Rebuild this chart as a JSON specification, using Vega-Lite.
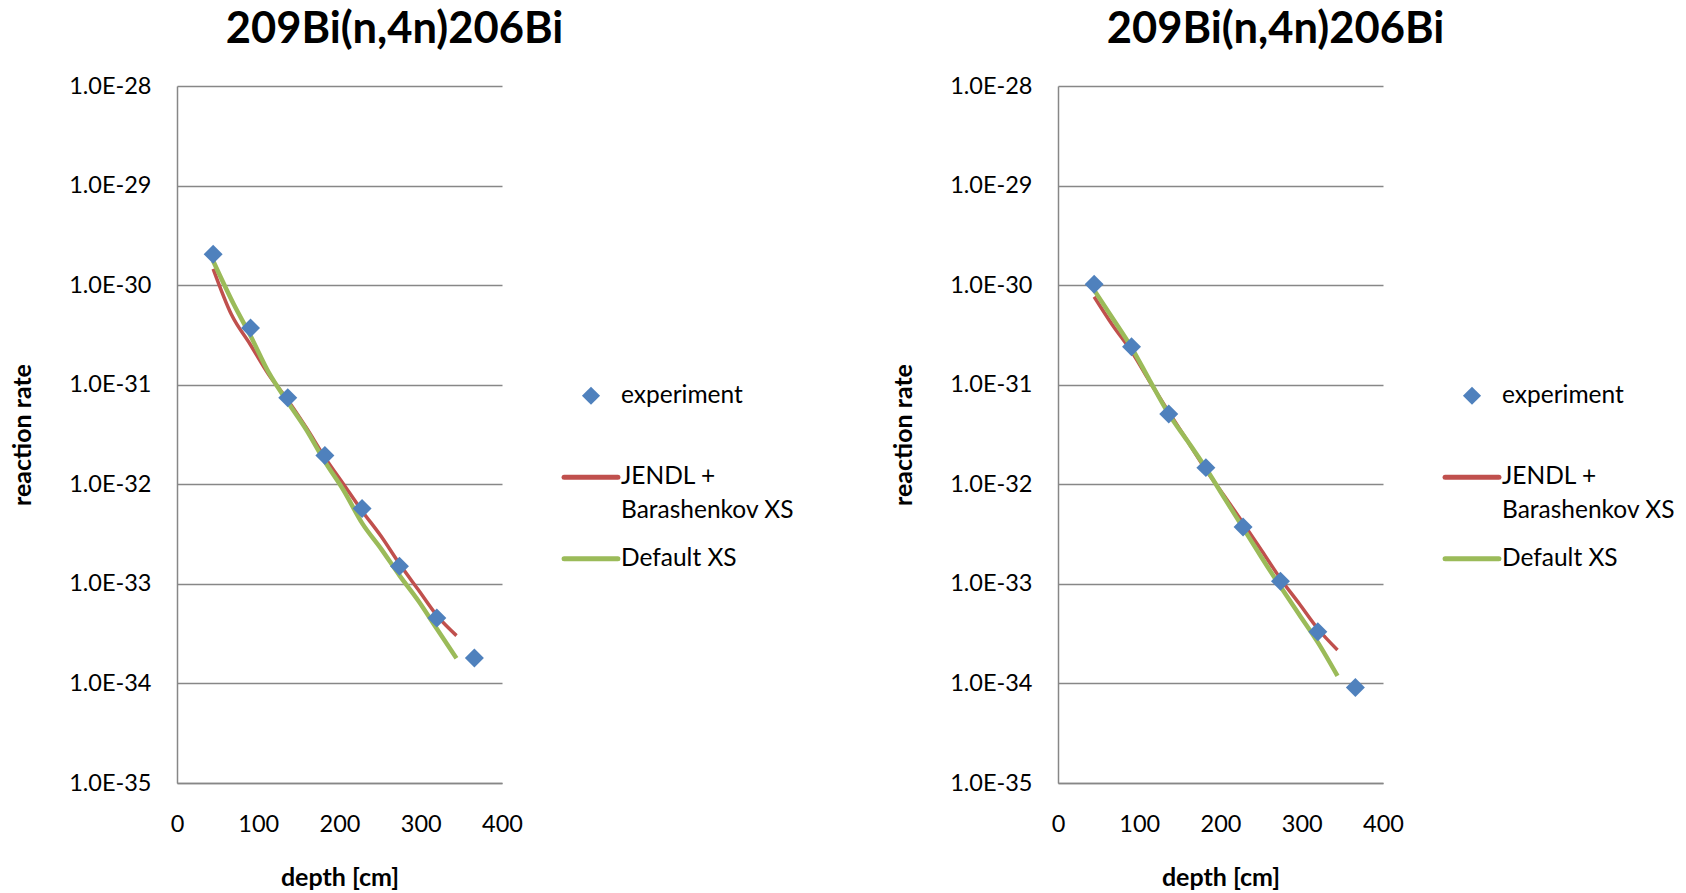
{
  "$schema": "https://vega.github.io/schema/vega-lite/v6.json",
  "background": "white",
  "padding": {"left": 10, "top": 7, "right": 5, "bottom": 5},
  "config": {
    "font": "Lato",
    "view": {"stroke": null},
    "axis": {
      "labelFont": "Lato", "labelFontSize": 23.5, "labelColor": "#000000",
      "titleFont": "Lato", "titleFontSize": 25, "titleFontWeight": "bold", "titleColor": "#000000",
      "domainColor": "#878787", "domainWidth": 1.5, "gridColor": "#878787", "gridWidth": 1.5,
      "ticks": false, "labelFlush": false
    },
    "title": {"font": "Lato", "fontSize": 43.5, "fontWeight": "bold", "color": "#000000", "anchor": "middle", "dx": 55, "offset": 22},
    "legend": {
      "orient": "none", "legendX": 387, "legendY": 297.5, "title": null,
      "labelFont": "Lato", "labelFontSize": 24.5, "labelColor": "#000000", "labelLimit": 400,
      "symbolSize": 2900, "labelOffset": 3, "rowPadding": 22.5,
      "symbolStrokeWidth": 5
    }
  },
  "data": {"values": [
    {"panel": "L", "series": "experiment", "depth": 44.5, "rate": 2.04e-30},
    {"panel": "L", "series": "experiment", "depth": 90.5, "rate": 3.72e-31},
    {"panel": "L", "series": "experiment", "depth": 136.3, "rate": 7.4e-32},
    {"panel": "L", "series": "experiment", "depth": 182, "rate": 1.95e-32},
    {"panel": "L", "series": "experiment", "depth": 227.8, "rate": 5.72e-33},
    {"panel": "L", "series": "experiment", "depth": 273.8, "rate": 1.5e-33},
    {"panel": "L", "series": "experiment", "depth": 319.8, "rate": 4.54e-34},
    {"panel": "L", "series": "experiment", "depth": 366, "rate": 1.8e-34},
    {"panel": "L", "series": "JENDL + Barashenkov XS", "depth": 44.5, "rate": 1.46e-30},
    {"panel": "L", "series": "JENDL + Barashenkov XS", "depth": 67, "rate": 5.07e-31},
    {"panel": "L", "series": "JENDL + Barashenkov XS", "depth": 90, "rate": 2.55e-31},
    {"panel": "L", "series": "JENDL + Barashenkov XS", "depth": 113, "rate": 1.26e-31},
    {"panel": "L", "series": "JENDL + Barashenkov XS", "depth": 136, "rate": 7.08e-32},
    {"panel": "L", "series": "JENDL + Barashenkov XS", "depth": 159, "rate": 3.72e-32},
    {"panel": "L", "series": "JENDL + Barashenkov XS", "depth": 182, "rate": 1.86e-32},
    {"panel": "L", "series": "JENDL + Barashenkov XS", "depth": 205, "rate": 1.0e-32},
    {"panel": "L", "series": "JENDL + Barashenkov XS", "depth": 228, "rate": 5.37e-33},
    {"panel": "L", "series": "JENDL + Barashenkov XS", "depth": 251, "rate": 3.02e-33},
    {"panel": "L", "series": "JENDL + Barashenkov XS", "depth": 274, "rate": 1.58e-33},
    {"panel": "L", "series": "JENDL + Barashenkov XS", "depth": 297, "rate": 8.71e-34},
    {"panel": "L", "series": "JENDL + Barashenkov XS", "depth": 320, "rate": 4.79e-34},
    {"panel": "L", "series": "JENDL + Barashenkov XS", "depth": 344, "rate": 3.02e-34},
    {"panel": "L", "series": "Default XS", "depth": 44.5, "rate": 1.75e-30},
    {"panel": "L", "series": "Default XS", "depth": 70, "rate": 6.38e-31},
    {"panel": "L", "series": "Default XS", "depth": 90, "rate": 3.16e-31},
    {"panel": "L", "series": "Default XS", "depth": 113, "rate": 1.32e-31},
    {"panel": "L", "series": "Default XS", "depth": 136, "rate": 6.75e-32},
    {"panel": "L", "series": "Default XS", "depth": 159, "rate": 3.55e-32},
    {"panel": "L", "series": "Default XS", "depth": 182, "rate": 1.69e-32},
    {"panel": "L", "series": "Default XS", "depth": 205, "rate": 8.71e-33},
    {"panel": "L", "series": "Default XS", "depth": 228, "rate": 4.05e-33},
    {"panel": "L", "series": "Default XS", "depth": 251, "rate": 2.26e-33},
    {"panel": "L", "series": "Default XS", "depth": 274, "rate": 1.21e-33},
    {"panel": "L", "series": "Default XS", "depth": 297, "rate": 6.76e-34},
    {"panel": "L", "series": "Default XS", "depth": 320, "rate": 3.52e-34},
    {"panel": "L", "series": "Default XS", "depth": 344, "rate": 1.79e-34},
    {"panel": "R", "series": "experiment", "depth": 44.5, "rate": 1.02e-30},
    {"panel": "R", "series": "experiment", "depth": 90.5, "rate": 2.4e-31},
    {"panel": "R", "series": "experiment", "depth": 136.3, "rate": 5.08e-32},
    {"panel": "R", "series": "experiment", "depth": 182, "rate": 1.47e-32},
    {"panel": "R", "series": "experiment", "depth": 227.8, "rate": 3.73e-33},
    {"panel": "R", "series": "experiment", "depth": 273.8, "rate": 1.06e-33},
    {"panel": "R", "series": "experiment", "depth": 319.8, "rate": 3.3e-34},
    {"panel": "R", "series": "experiment", "depth": 366, "rate": 9.1e-35},
    {"panel": "R", "series": "JENDL + Barashenkov XS", "depth": 44.5, "rate": 7.64e-31},
    {"panel": "R", "series": "JENDL + Barashenkov XS", "depth": 67, "rate": 3.98e-31},
    {"panel": "R", "series": "JENDL + Barashenkov XS", "depth": 90, "rate": 2.19e-31},
    {"panel": "R", "series": "JENDL + Barashenkov XS", "depth": 113, "rate": 1.07e-31},
    {"panel": "R", "series": "JENDL + Barashenkov XS", "depth": 136, "rate": 5.37e-32},
    {"panel": "R", "series": "JENDL + Barashenkov XS", "depth": 159, "rate": 2.75e-32},
    {"panel": "R", "series": "JENDL + Barashenkov XS", "depth": 182, "rate": 1.40e-32},
    {"panel": "R", "series": "JENDL + Barashenkov XS", "depth": 205, "rate": 7.59e-33},
    {"panel": "R", "series": "JENDL + Barashenkov XS", "depth": 228, "rate": 4.07e-33},
    {"panel": "R", "series": "JENDL + Barashenkov XS", "depth": 251, "rate": 2.14e-33},
    {"panel": "R", "series": "JENDL + Barashenkov XS", "depth": 274, "rate": 1.12e-33},
    {"panel": "R", "series": "JENDL + Barashenkov XS", "depth": 297, "rate": 6.31e-34},
    {"panel": "R", "series": "JENDL + Barashenkov XS", "depth": 320, "rate": 3.52e-34},
    {"panel": "R", "series": "JENDL + Barashenkov XS", "depth": 344, "rate": 2.17e-34},
    {"panel": "R", "series": "Default XS", "depth": 44.5, "rate": 8.91e-31},
    {"panel": "R", "series": "Default XS", "depth": 67, "rate": 4.68e-31},
    {"panel": "R", "series": "Default XS", "depth": 90, "rate": 2.40e-31},
    {"panel": "R", "series": "Default XS", "depth": 113, "rate": 1.10e-31},
    {"panel": "R", "series": "Default XS", "depth": 136, "rate": 5.13e-32},
    {"panel": "R", "series": "Default XS", "depth": 159, "rate": 2.75e-32},
    {"panel": "R", "series": "Default XS", "depth": 182, "rate": 1.45e-32},
    {"panel": "R", "series": "Default XS", "depth": 205, "rate": 7.24e-33},
    {"panel": "R", "series": "Default XS", "depth": 228, "rate": 3.63e-33},
    {"panel": "R", "series": "Default XS", "depth": 251, "rate": 1.82e-33},
    {"panel": "R", "series": "Default XS", "depth": 274, "rate": 9.33e-34},
    {"panel": "R", "series": "Default XS", "depth": 297, "rate": 4.90e-34},
    {"panel": "R", "series": "Default XS", "depth": 320, "rate": 2.57e-34},
    {"panel": "R", "series": "Default XS", "depth": 344, "rate": 1.19e-34}
  ]},
  "spacing": 556,
  "bounds": "flush",
  "resolve": {"scale": {"color": "independent"}, "legend": {"color": "independent"}},
  "hconcat": [
    {
      "title": {"text": "209Bi(n,4n)206Bi"},
      "width": 325, "height": 697,
      "transform": [{"filter": "datum.panel === 'L'"}],
      "encoding": {
        "x": {"field": "depth", "type": "quantitative", "scale": {"domain": [0, 400], "nice": false},
              "axis": {"values": [0, 100, 200, 300, 400], "grid": false, "labelPadding": 29, "titlePadding": 30, "title": "depth [cm]"}},
        "y": {"field": "rate", "type": "quantitative", "scale": {"type": "log", "domain": [1e-35, 1e-28], "nice": false},
              "axis": {"values": [1e-35, 1e-34, 1e-33, 1e-32, 1e-31, 1e-30, 1e-29, 1e-28], "labelExpr": "'1.0E-' + round(-log(datum.value)/LN10)", "labelPadding": 26, "titlePadding": 33, "title": "reaction rate"}},
        "color": {"field": "series", "type": "nominal",
                  "scale": {"domain": ["experiment", "JENDL + Barashenkov XS", "Default XS"], "range": ["#4F81BD", "#C0504D", "#9BBB59"]},
                  "legend": {"encode": {
                    "symbols": {"update": {
                      "x": {"value": 27},
                      "shape": {"signal": "datum.value === 'experiment' ? 'diamond' : 'stroke'"},
                      "size": {"signal": "datum.value === 'experiment' ? 330 : 2900"},
                      "fill": {"signal": "datum.value === 'experiment' ? '#4F81BD' : 'transparent'"},
                      "stroke": {"signal": "datum.value === 'experiment' ? '#4F81BD' : datum.value === 'Default XS' ? '#9BBB59' : '#C0504D'"},
                      "strokeWidth": {"signal": "datum.value === 'experiment' ? 0 : 5"},
                      "strokeCap": {"value": "round"}
                    }},
                    "labels": {"update": {
                      "x": {"value": 57},
                      "text": {"signal": "datum.value === 'JENDL + Barashenkov XS' ? ['JENDL +', 'Barashenkov XS'] : datum.value === 'experiment' ? ['experiment', ' '] : datum.label"},
                      "lineHeight": {"value": 33.5}
                    }}
                  }}}
      },
      "layer": [
        {"mark": {"type": "line", "interpolate": "monotone", "strokeWidth": 3.5}, "transform": [{"filter": "datum.series === 'JENDL + Barashenkov XS'"}]},
        {"mark": {"type": "line", "interpolate": "monotone", "strokeWidth": 4.5}, "transform": [{"filter": "datum.series === 'Default XS'"}]},
        {"mark": {"type": "point", "shape": "diamond", "filled": true, "size": 360, "opacity": 1}, "transform": [{"filter": "datum.series === 'experiment'"}]}
      ]
    },
    {
      "title": {"text": "209Bi(n,4n)206Bi"},
      "width": 325, "height": 697,
      "transform": [{"filter": "datum.panel === 'R'"}],
      "encoding": {
        "x": {"field": "depth", "type": "quantitative", "scale": {"domain": [0, 400], "nice": false},
              "axis": {"values": [0, 100, 200, 300, 400], "grid": false, "labelPadding": 29, "titlePadding": 30, "title": "depth [cm]"}},
        "y": {"field": "rate", "type": "quantitative", "scale": {"type": "log", "domain": [1e-35, 1e-28], "nice": false},
              "axis": {"values": [1e-35, 1e-34, 1e-33, 1e-32, 1e-31, 1e-30, 1e-29, 1e-28], "labelExpr": "'1.0E-' + round(-log(datum.value)/LN10)", "labelPadding": 26, "titlePadding": 33, "title": "reaction rate"}},
        "color": {"field": "series", "type": "nominal",
                  "scale": {"domain": ["experiment", "JENDL + Barashenkov XS", "Default XS"], "range": ["#4F81BD", "#C0504D", "#9BBB59"]},
                  "legend": {"encode": {
                    "symbols": {"update": {
                      "x": {"value": 27},
                      "shape": {"signal": "datum.value === 'experiment' ? 'diamond' : 'stroke'"},
                      "size": {"signal": "datum.value === 'experiment' ? 330 : 2900"},
                      "fill": {"signal": "datum.value === 'experiment' ? '#4F81BD' : 'transparent'"},
                      "stroke": {"signal": "datum.value === 'experiment' ? '#4F81BD' : datum.value === 'Default XS' ? '#9BBB59' : '#C0504D'"},
                      "strokeWidth": {"signal": "datum.value === 'experiment' ? 0 : 5"},
                      "strokeCap": {"value": "round"}
                    }},
                    "labels": {"update": {
                      "x": {"value": 57},
                      "text": {"signal": "datum.value === 'JENDL + Barashenkov XS' ? ['JENDL +', 'Barashenkov XS'] : datum.value === 'experiment' ? ['experiment', ' '] : datum.label"},
                      "lineHeight": {"value": 33.5}
                    }}
                  }}}
      },
      "layer": [
        {"mark": {"type": "line", "interpolate": "monotone", "strokeWidth": 3.5}, "transform": [{"filter": "datum.series === 'JENDL + Barashenkov XS'"}]},
        {"mark": {"type": "line", "interpolate": "monotone", "strokeWidth": 4.5}, "transform": [{"filter": "datum.series === 'Default XS'"}]},
        {"mark": {"type": "point", "shape": "diamond", "filled": true, "size": 360, "opacity": 1}, "transform": [{"filter": "datum.series === 'experiment'"}]}
      ]
    }
  ]
}
